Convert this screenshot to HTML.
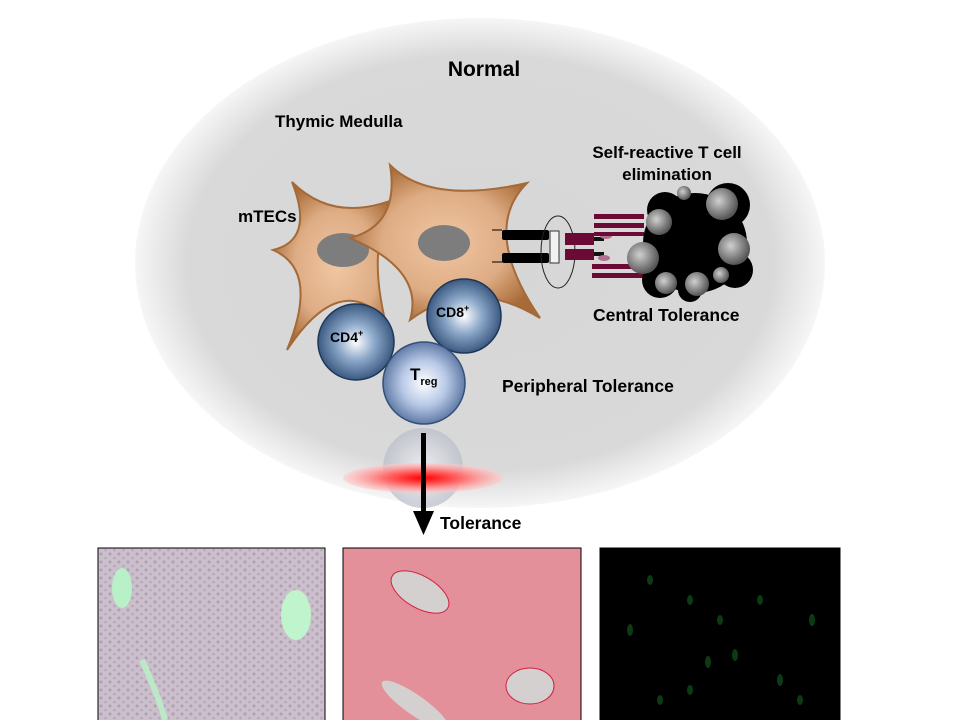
<!DOCTYPE html>
<html><head><meta charset="utf-8"><style>
body{margin:0;width:960px;height:720px;background:#fff;overflow:hidden;font-family:"Liberation Sans",sans-serif}
</style></head><body>
<svg width="960" height="720" viewBox="0 0 960 720" xmlns="http://www.w3.org/2000/svg" font-family="Liberation Sans, sans-serif" font-weight="bold">
<defs>
<radialGradient id="bg" cx="0.5" cy="0.5" r="0.5">
<stop offset="0" stop-color="#d6d6d6"/><stop offset="0.85" stop-color="#d9d9d9"/><stop offset="1" stop-color="#f6f6f6"/>
</radialGradient>
<radialGradient id="star" cx="0.5" cy="0.5" r="0.55">
<stop offset="0" stop-color="#f0c7a4"/><stop offset="0.6" stop-color="#deac84"/><stop offset="1" stop-color="#a86a36"/>
</radialGradient>
<radialGradient id="blue" cx="0.5" cy="0.5" r="0.55">
<stop offset="0" stop-color="#ffffff"/><stop offset="0.45" stop-color="#8aa6c8"/><stop offset="1" stop-color="#2c4a72"/>
</radialGradient>
<radialGradient id="lblue" cx="0.5" cy="0.5" r="0.55">
<stop offset="0" stop-color="#ffffff"/><stop offset="0.5" stop-color="#b7c8e6"/><stop offset="1" stop-color="#4e6a98"/>
</radialGradient>
<radialGradient id="grey" cx="0.4" cy="0.4" r="0.6">
<stop offset="0" stop-color="#d0d0d0"/><stop offset="1" stop-color="#555"/>
</radialGradient>
<radialGradient id="red" cx="0.5" cy="0.5" r="0.5">
<stop offset="0" stop-color="#ff0000"/><stop offset="0.5" stop-color="#ff7070"/><stop offset="1" stop-color="#ffcccc" stop-opacity="0.6"/>
</radialGradient>
<radialGradient id="ghost" cx="0.5" cy="0.5" r="0.5">
<stop offset="0" stop-color="#f4f4f8"/><stop offset="1" stop-color="#b8bcc8"/>
</radialGradient>
<pattern id="dots" width="9" height="8" patternUnits="userSpaceOnUse">
<circle cx="2" cy="2" r="1.5" fill="#9a88a8"/><circle cx="6.5" cy="6" r="1.3" fill="#a894b0"/>
</pattern>
</defs>
<ellipse cx="480" cy="263" rx="345" ry="245" fill="url(#bg)"/>
<text x="484" y="76" font-size="21" text-anchor="middle">Normal</text>
<text x="275" y="127" font-size="17">Thymic Medulla</text>
<text x="667" y="158" font-size="17" text-anchor="middle">Self-reactive T cell</text>
<text x="667" y="180" font-size="17" text-anchor="middle">elimination</text>
<text x="238" y="222" font-size="17">mTECs</text>
<text x="593" y="321" font-size="17.5">Central Tolerance</text>
<text x="502" y="392" font-size="17.5">Peripheral Tolerance</text>
<!-- left star -->
<path d="M292,182 Q335,225 400,197 Q365,235 385,320 Q340,270 287,350 Q320,270 273,250 Q315,240 292,182Z" fill="url(#star)" stroke="#a46a38" stroke-width="2"/>
<ellipse cx="343" cy="250" rx="26" ry="17" fill="#7d7d7d"/>
<!-- right star -->
<path d="M390,165 Q430,205 527,183 Q480,230 540,318 Q470,275 410,320 Q425,270 350,238 Q400,225 390,165Z" fill="url(#star)" stroke="#a46a38" stroke-width="2"/>
<ellipse cx="444" cy="243" rx="26" ry="18" fill="#7d7d7d"/>
<!-- receptors -->
<line x1="492" y1="230" x2="502" y2="230" stroke="#000"/><line x1="492" y1="262" x2="502" y2="262" stroke="#000"/>
<rect x="502" y="230" width="47" height="10" fill="#000" rx="2"/>
<rect x="502" y="253" width="47" height="10" fill="#000" rx="2"/>
<ellipse cx="558" cy="252" rx="17" ry="36" fill="none" stroke="#222" stroke-width="1"/>
<rect x="550" y="231" width="9" height="32" fill="#f2f2f2" stroke="#333" stroke-width="1"/>
<rect x="565" y="233" width="29" height="12" fill="#6a0a35"/>
<rect x="565" y="249" width="29" height="11" fill="#6a0a35"/>
<rect x="594" y="237" width="10" height="4" fill="#111"/>
<rect x="594" y="252" width="10" height="4" fill="#111"/>
<ellipse cx="606" cy="236" rx="6" ry="3" fill="#b07090"/>
<ellipse cx="604" cy="258" rx="6" ry="3" fill="#b07090"/>
<rect x="594" y="214" width="50" height="5" fill="#6a0a35"/>
<rect x="594" y="223" width="50" height="5" fill="#6a0a35"/>
<rect x="594" y="232" width="50" height="4" fill="#6a0a35"/>
<rect x="592" y="264" width="52" height="5" fill="#6a0a35"/>
<rect x="592" y="273" width="52" height="5" fill="#6a0a35"/>
<!-- apoptotic cell -->
<ellipse cx="695" cy="243" rx="52" ry="50" fill="#000"/>
<circle cx="728" cy="205" r="22" fill="#000"/><circle cx="735" cy="270" r="18" fill="#000"/>
<circle cx="660" cy="280" r="18" fill="#000"/><circle cx="665" cy="210" r="18" fill="#000"/>
<circle cx="690" cy="290" r="12" fill="#000"/>
<circle cx="722" cy="204" r="16" fill="url(#grey)"/>
<circle cx="684" cy="193" r="7" fill="url(#grey)"/>
<circle cx="659" cy="222" r="13" fill="url(#grey)"/>
<circle cx="643" cy="258" r="16" fill="url(#grey)"/>
<circle cx="734" cy="249" r="16" fill="url(#grey)"/>
<circle cx="721" cy="275" r="8" fill="url(#grey)"/>
<circle cx="697" cy="284" r="12" fill="url(#grey)"/>
<circle cx="666" cy="283" r="11" fill="url(#grey)"/>
<!-- T cells -->
<circle cx="356" cy="342" r="38" fill="url(#blue)" stroke="#1e3557" stroke-width="1.5"/>
<circle cx="464" cy="316" r="37" fill="url(#blue)" stroke="#1e3557" stroke-width="1.5"/>
<circle cx="424" cy="383" r="41" fill="url(#lblue)" stroke="#34507a" stroke-width="1.5"/>
<text x="330" y="342" font-size="14">CD4<tspan font-size="9" dy="-6">+</tspan></text>
<text x="436" y="317" font-size="14">CD8<tspan font-size="9" dy="-6">+</tspan></text>
<text x="410" y="380" font-size="17">T<tspan font-size="11" dy="5">reg</tspan></text>
<circle cx="423" cy="468" r="40" fill="url(#ghost)" opacity="0.7"/>
<ellipse cx="423" cy="478" rx="80" ry="15" fill="url(#red)"/>
<rect x="421" y="433" width="5" height="80" fill="#000"/>
<path d="M413,511 L434,511 L423.5,535Z" fill="#000"/>
<text x="440" y="529" font-size="17.5">Tolerance</text>
<!-- panels -->
<rect x="98" y="548" width="227" height="175" fill="#cbbfcb" stroke="#000"/>
<rect x="99" y="549" width="225" height="172" fill="url(#dots)" opacity="0.6"/>
<ellipse cx="122" cy="588" rx="10" ry="20" fill="#b8f0c8"/>
<ellipse cx="296" cy="615" rx="15" ry="25" fill="#c0f4cc"/>
<path d="M142,660 Q160,700 165,720" stroke="#bde8c8" stroke-width="6" fill="none"/>
<rect x="343" y="548" width="238" height="175" fill="#e3909a" stroke="#000"/>
<ellipse cx="420" cy="592" rx="32" ry="16" transform="rotate(30 420 592)" fill="#d4d0d0" stroke="#d02040"/>
<ellipse cx="530" cy="686" rx="24" ry="18" fill="#d4d0d0" stroke="#d02040"/>
<ellipse cx="415" cy="705" rx="40" ry="10" transform="rotate(35 415 705)" fill="#d4d0d0"/>
<rect x="600" y="548" width="240" height="175" fill="#000" stroke="#000"/>
<g fill="#0c3a14">
<ellipse cx="708" cy="662" rx="3" ry="6"/><ellipse cx="735" cy="655" rx="3" ry="6"/><ellipse cx="690" cy="600" rx="3" ry="5"/>
<ellipse cx="780" cy="680" rx="3" ry="6"/><ellipse cx="812" cy="620" rx="3" ry="6"/><ellipse cx="650" cy="580" rx="3" ry="5"/>
<ellipse cx="720" cy="620" rx="3" ry="5"/><ellipse cx="760" cy="600" rx="3" ry="5"/><ellipse cx="660" cy="700" rx="3" ry="5"/>
<ellipse cx="630" cy="630" rx="3" ry="6"/><ellipse cx="800" cy="700" rx="3" ry="5"/><ellipse cx="690" cy="690" rx="3" ry="5"/>
</g>
</svg>
</body></html>
